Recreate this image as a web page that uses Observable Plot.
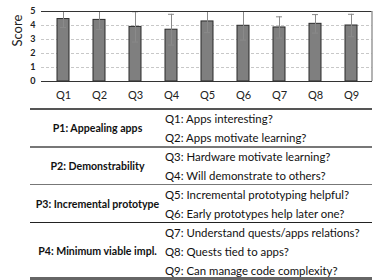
<!DOCTYPE html>
<html>
<head>
<meta charset="utf-8">
<script src="https://cdn.jsdelivr.net/npm/d3@7"></script>
<script src="https://cdn.jsdelivr.net/npm/@observablehq/plot@0.6"></script>
<style>
  body { margin: 0; background: #fff; font-family: Lato, "Open Sans", sans-serif; }
  #wrap { position: relative; width: 381px; height: 280px; overflow: hidden; }
  #chart { position: absolute; left: 0; top: 0; }
  .hl { position: absolute; left: 30px; width: 342px; }
  .p { position: absolute; left: 30px; width: 135px; text-align: center; font-weight: bold; font-size: 10.6px; color: #111; transform: translateY(-50%); white-space: nowrap; }
  .q { position: absolute; left: 165px; font-size: 11.4px; color: #111; transform: translateY(-50%); white-space: nowrap; }
</style>
</head>
<body>
<div id="wrap">
  <div id="chart"></div>
  <div id="tbl"></div>
</div>
<script>
const questions = ["Q1", "Q2", "Q3", "Q4", "Q5", "Q6", "Q7", "Q8", "Q9"];
const means = [4.46, 4.40, 3.90, 3.70, 4.29, 3.98, 3.86, 4.12, 4.00];
const sds = [0.60, 0.68, 1.08, 1.10, 0.80, 1.02, 0.76, 0.66, 0.80];
const yTicks = [0, 1, 2, 3, 4, 5];

const principles = ["P1: Appealing apps", "P2: Demonstrability", "P3: Incremental prototype", "P4: Minimum viable impl."];
const principleRows = [2, 2, 2, 3];
const questionTexts = [
  "Q1: Apps interesting?",
  "Q2: Apps motivate learning?",
  "Q3: Hardware motivate learning?",
  "Q4: Will demonstrate to others?",
  "Q5: Incremental prototyping helpful?",
  "Q6: Early prototypes help later one?",
  "Q7: Understand quests/apps relations?",
  "Q8: Quests tied to apps?",
  "Q9: Can manage code complexity?"
];

const data = questions.map((q, i) => ({q, mean: means[i], lo: means[i] - sds[i], hi: means[i] + sds[i]}));

const chart = Plot.plot({
  width: 381,
  height: 106,
  marginLeft: 41,
  marginRight: 9,
  marginTop: 11,
  marginBottom: 25,
  style: {fontFamily: "Lato, 'Open Sans', sans-serif", background: "#fff"},
  x: {domain: questions, paddingInner: 0.68, paddingOuter: 0.34, label: null},
  y: {domain: [0, 5], ticks: yTicks, label: null},
  marks: [
    Plot.gridY(yTicks.filter(d => d > 0 && d < 5), {stroke: "#c8c8c8", strokeOpacity: 1, strokeDasharray: "3,2"}),
    Plot.barY(data, {x: "q", y: "mean", fill: "#7f7f7f", stroke: "#2b2b2b", strokeWidth: 1}),
    Plot.ruleX(data, {x: "q", y1: "lo", y2: "hi", stroke: "#8a8a8a", strokeWidth: 1, clip: "frame"}),
    Plot.tickY(data, {x: "q", y: "lo", stroke: "#8a8a8a", strokeWidth: 1, inset: 3, clip: "frame"}),
    Plot.tickY(data.filter(d => d.hi < 5), {x: "q", y: "hi", stroke: "#8a8a8a", strokeWidth: 1, inset: 3, clip: "frame"}),
    Plot.ruleY([5], {stroke: "#333", strokeWidth: 1}),
    Plot.ruleX([0], {frameAnchor: "left", stroke: "#333", strokeWidth: 1}),
    Plot.ruleY([0], {stroke: "#333", strokeWidth: 1.2}),
    Plot.axisY({ticks: yTicks, tickFormat: d3.format("d"), tickSize: 0, tickPadding: 6, fontSize: 9, fontWeight: "bold", fill: "#222", label: null}),
    Plot.axisX({tickSize: 0, tickPadding: 10, fontSize: 11, fill: "#222", label: null}),
    Plot.text(["Score"], {frameAnchor: "left", dx: -24, rotate: -90, fontSize: 13, fill: "#222"})
  ]
});
document.getElementById("chart").appendChild(chart);
d3.select(chart).append("line").attr("x1", 372).attr("x2", 372).attr("y1", 11).attr("y2", 81).attr("stroke", "#9a9a9a").attr("stroke-width", 1.5);

// Table (absolute rows)
const tbl = d3.select("#tbl");
const top0 = 109, rowH = 18.9;
const hline = (y, w, c) => tbl.append("div").attr("class", "hl")
  .style("top", (y - w / 2) + "px").style("height", w + "px").style("background", c);
hline(top0, 2, "#555");
let qi = 0;
principles.forEach((p, pi) => {
  const start = qi, n = principleRows[pi];
  tbl.append("div").attr("class", "p").style("top", (top0 + (start + n / 2) * rowH) + "px").text(p);
  for (let r = 0; r < n; r++, qi++) {
    tbl.append("div").attr("class", "q").style("top", (top0 + (qi + 0.5) * rowH) + "px").text(questionTexts[qi]);
  }
  const yEnd = top0 + qi * rowH;
  if (pi < principles.length - 1) hline(yEnd, 1.5, pi === 2 ? "#222" : "#777");
  else hline(yEnd - 1, 3, "#666");
});
</script>
</body>
</html>
